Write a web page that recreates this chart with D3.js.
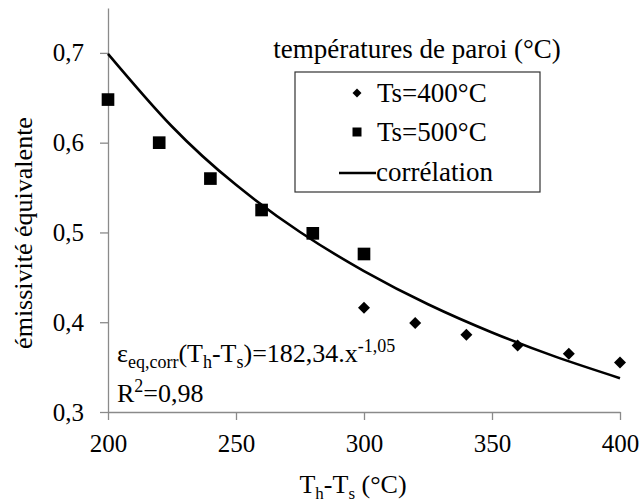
<!DOCTYPE html>
<html><head><meta charset="utf-8">
<script src="https://cdn.jsdelivr.net/npm/d3@7"></script>
</head><body style="margin:0">
<svg id="c" width="641" height="504" font-family="Liberation Serif"></svg>
<script>
const xTicks = [200, 250, 300, 350, 400];
const yTicks = [0.3, 0.4, 0.5, 0.6, 0.7];
const ts400X = [300, 320, 340, 360, 380, 400];
const ts400Y = [0.416, 0.399, 0.386, 0.374, 0.365, 0.355];
const ts500X = [200, 220, 240, 260, 280, 300];
const ts500Y = [0.648, 0.600, 0.560, 0.525, 0.499, 0.476];
const corrX = [200, 225, 250, 275, 300, 325, 350, 375, 400];
const corrY = [0.699, 0.618, 0.553, 0.5005, 0.457, 0.420, 0.3886, 0.3614, 0.3377];
const legendLabels = ["Ts=400°C", "Ts=500°C", "corrélation"];

const fontName = "Liberation Serif";
const svg = d3.select("#c");
const x = d3.scaleLinear().domain([200, 400]).range([108, 620]);
const y = d3.scaleLinear().domain([0.3, 0.75]).range([412, 8]);
const fmt = v => d3.format(".1f")(v).replace(".", ",");
const axisCol = "#8a8a8a";
const T = (sel, size) => sel.attr("font-size", size).attr("font-family", fontName).attr("fill", "#000");

const gx = svg.append("g").attr("transform", "translate(0,412)")
  .call(d3.axisBottom(x).tickValues(xTicks).tickSize(8).tickSizeOuter(0).tickPadding(14));
const gy = svg.append("g").attr("transform", "translate(108,0)")
  .call(d3.axisLeft(y).tickValues(yTicks).tickFormat(fmt).tickSize(8).tickSizeOuter(0).tickPadding(16));
[gx, gy].forEach(g => {
  g.attr("font-family", fontName);
  g.selectAll("path,line").attr("stroke", axisCol).attr("stroke-width", 1.3);
  T(g.selectAll("text"), 25);
});

// correlation curve
const line = d3.line().x(d => x(d[0])).y(d => y(d[1])).curve(d3.curveNatural);
svg.append("path").datum(corrX.map((v, i) => [v, corrY[i]]))
  .attr("d", line).attr("fill", "none").attr("stroke", "#000").attr("stroke-width", 2.6);

// squares
svg.selectAll(".sq").data(ts500X.map((v, i) => [v, ts500Y[i]])).enter().append("path")
  .attr("transform", d => `translate(${x(d[0])},${y(d[1])})`)
  .attr("d", d3.symbol(d3.symbolSquare, 160)).attr("fill", "#000");
// diamonds
svg.selectAll(".dm").data(ts400X.map((v, i) => [v, ts400Y[i]])).enter().append("path")
  .attr("transform", d => `translate(${x(d[0])},${y(d[1])}) rotate(45)`)
  .attr("d", d3.symbol(d3.symbolSquare, 72)).attr("fill", "#000");

// axis titles
T(svg.append("text").attr("transform", "translate(32,233) rotate(-90)")
  .attr("text-anchor", "middle"), 26).text("émissivité équivalente");
const xt = T(svg.append("text").attr("x", 353).attr("y", 493).attr("text-anchor", "middle"), 26);
xt.append("tspan").text("T");
xt.append("tspan").attr("font-size", 17).attr("dy", 6).text("h");
xt.append("tspan").attr("dy", -6).text("-T");
xt.append("tspan").attr("font-size", 17).attr("dy", 6).text("s");
xt.append("tspan").attr("dy", -6).text(" (°C)");

// equation
const eq = T(svg.append("text").attr("x", 117).attr("y", 362), 26);
eq.append("tspan").text("ε");
eq.append("tspan").attr("font-size", 18).attr("dy", 6).text("eq,corr");
eq.append("tspan").attr("dy", -6).text("(T");
eq.append("tspan").attr("font-size", 18).attr("dy", 6).text("h");
eq.append("tspan").attr("dy", -6).text("-T");
eq.append("tspan").attr("font-size", 18).attr("dy", 6).text("s");
eq.append("tspan").attr("dy", -6).text(")=182,34.x");
eq.append("tspan").attr("font-size", 18).attr("dy", -10).text("-1,05");
const r2 = T(svg.append("text").attr("x", 117).attr("y", 402), 26);
r2.append("tspan").text("R");
r2.append("tspan").attr("font-size", 18).attr("dy", -10).text("2");
r2.append("tspan").attr("dy", 10).text("=0,98");

// legend
T(svg.append("text").attr("x", 417).attr("y", 58).attr("text-anchor", "middle"), 27)
  .text("températures de paroi (°C)");
svg.append("rect").attr("x", 295).attr("y", 72).attr("width", 245).attr("height", 120)
  .attr("fill", "#fff").attr("stroke", "#333").attr("stroke-width", 1.2);
const ly = [93, 132, 172];
const lg = svg.selectAll(".lg").data(legendLabels).enter().append("g")
  .attr("transform", (d, i) => `translate(0,${ly[i]})`);
T(lg.append("text").attr("x", (d, i) => i === 2 ? 376 : 377).attr("y", 9), 27).text(d => d);
lg.filter((d, i) => i === 0).append("path").attr("transform", "translate(357,0) rotate(45)")
  .attr("d", d3.symbol(d3.symbolSquare, 40)).attr("fill", "#000");
lg.filter((d, i) => i === 1).append("path").attr("transform", "translate(357,0)")
  .attr("d", d3.symbol(d3.symbolSquare, 81)).attr("fill", "#000");
lg.filter((d, i) => i === 2).append("line").attr("x1", 339).attr("x2", 376).attr("y1", 1).attr("y2", 1)
  .attr("stroke", "#000").attr("stroke-width", 2.4);
</script>
</body></html>
